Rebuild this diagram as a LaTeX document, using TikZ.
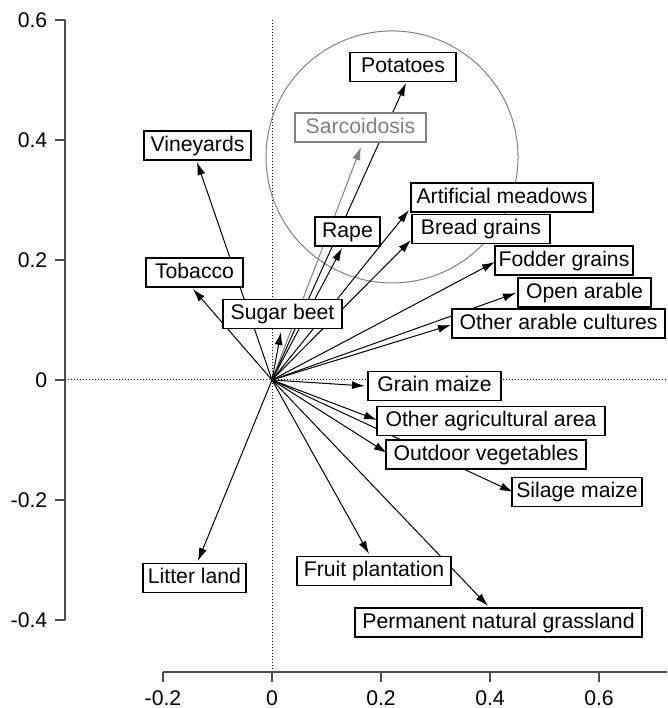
\documentclass[tikz,border=0pt]{standalone}
\usepackage{fontspec}
\setmainfont{Liberation Sans}
\usetikzlibrary{arrows.meta}

\begin{document}
\begin{tikzpicture}[x=272.5pt, y=300pt, font=\fontsize{10.6}{12}\selectfont,
	lbl/.style={draw, fill=white, line width=0.65pt, inner xsep=1pt, inner ysep=0pt,
		minimum height=14.6pt, text height=7.8pt, text depth=2.2pt},
	vec/.style={-{Latex[length=6.5pt,width=4pt]}, line width=0.5pt},
	axisline/.style={line width=0.75pt, black!70},
	guide/.style={line width=0.5pt, dash pattern=on 0.5pt off 1pt}]
	
	\path[use as bounding box] (-0.4991,-0.5467) rectangle (0.7248,0.6333);
	
	% draw axes
	\draw[axisline] (-0.3798,0.6) -- (-0.3798,-0.4);
	\draw[axisline] (-0.2,-0.4867) -- (0.7248,-0.4867);
	
	\foreach \y in {0.6, 0.4, 0.2, 0, -0.2, -0.4}
	\draw[axisline] (-0.3798,\y) -- ++(-5pt,0) node[left=3.5pt, inner sep=0pt, text=black] {\y};
	
	\foreach \x in {-0.2, 0, 0.2, 0.4, 0.6}
	\draw[axisline] (\x,-0.4867) -- ++(0,-5pt) node[below=4pt, inner sep=0pt, text=black] {\x};
	
	% draw dotted guides
	\coordinate (o) at (0,0);
	\draw[guide] (0,0.6) -- (0,-0.4817);
	\draw[guide] (-0.3798,0) -- (0.7248,0);
	
	% draw circle
	\draw[gray, line width=0.5pt] (0.2202,0.3717) circle[radius=63pt];
	
	% draw vectors
	\coordinate (sarc) at (0.1633,0.3883);
	\draw[vec, gray] (o) -- (sarc);
	
	\foreach \n/\tx/\ty in {vine/-0.1376/0.3633, toba/-0.145/0.1517, sugb/0.0165/0.08,
		rape/0.1284/0.22, pota/0.2459/0.495, artm/0.2514/0.2833, brea/0.2550/0.2333,
		fodd/0.4092/0.1967, opar/0.4477/0.145, otar/0.3284/0.0917, grma/0.1706/-0.01,
		otag/0.1927/-0.0667, outv/0.211/-0.1217, silm/0.4422/-0.1867, frui/0.178/-0.29,
		perm/0.3963/-0.3767, litt/-0.1358/-0.3017}
	{
		\coordinate (\n) at (\tx,\ty);
		\draw[vec] (o) -- (\n);
	}
	
	% draw nodes (last field: box width in half points)
	\node[lbl, draw=gray, text=gray, minimum width=65.5pt] (sarc-lbl) at (0.1624,0.4208) {Sarcoidosis};
	
	\foreach \n/\lx/\ly/\t/\w in {vine/-0.1367/0.3908/Vineyards/107, toba/-0.1422/0.1792/Tobacco/97,
		sugb/0.0193/0.11/Sugar beet/119, rape/0.1385/0.2475/Rape/65, pota/0.2404/0.5217/Potatoes/106,
		artm/0.422/0.3042/Artificial meadows/182, brea/0.3835/0.2517/Bread grains/138,
		fodd/0.5358/0.1992/Fodder grains/138, opar/0.5734/0.1458/Open arable/133,
		otar/0.5257/0.0942/Other arable cultures/213, grma/0.2982/-0.01/Grain maize/133,
		otag/0.4018/-0.0683/Other agricultural area/228, outv/0.3927/-0.1242/Outdoor vegetables/200,
		silm/0.5596/-0.1867/Silage maize/130, frui/0.1872/-0.3183/Fruit plantation/154,
		perm/0.4156/-0.4042/Permanent natural grassland/287, litt/-0.1422/-0.33/Litter land/103}
	\node[lbl, minimum width=\w*0.5pt] (\n-lbl) at (\lx,\ly) {\t};
\end{tikzpicture}
\end{document}
